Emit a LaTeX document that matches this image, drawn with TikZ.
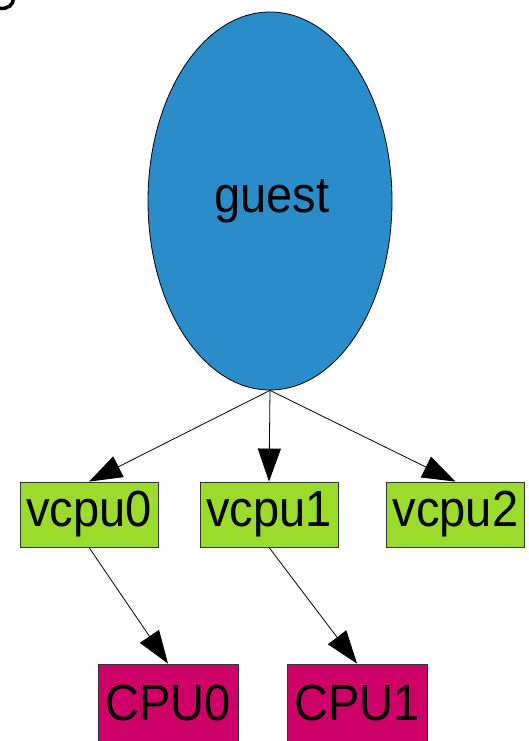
\documentclass[tikz,border=0pt]{standalone}
\usepackage{fontspec}
\setmainfont{Liberation Sans}
\usetikzlibrary{arrows.meta,shapes.geometric}
\definecolor{guestblue}{HTML}{2A8DC9}
\definecolor{vgreen}{HTML}{9ADB2C}
\definecolor{cpumag}{HTML}{CC0066}
\definecolor{edgegray}{HTML}{333333}
\newcommand{\tallt}[1]{\scalebox{1}[1.08]{#1}}
\tikzset{
  lbl/.style={font=\fontsize{47}{56}\selectfont, text=black},
  guestnode/.style={ellipse, draw=black, line width=0.8pt, fill=guestblue, minimum width=244pt, minimum height=378pt, inner sep=0pt, lbl},
  vbox/.style={rectangle, draw=edgegray, line width=0.8pt, fill=vgreen, minimum width=138pt, minimum height=65pt, inner sep=0pt, lbl},
  cbox/.style={rectangle, draw=edgegray, line width=0.8pt, fill=cpumag, minimum width=140pt, minimum height=79pt, inner sep=0pt, lbl},
  conn/.style={draw=black, line width=0.8pt, -{Triangle[length=33pt,width=23pt]}}
}
\begin{document}
\begin{tikzpicture}[x=1pt,y=-1pt]
\useasboundingbox (0,0) rectangle (528,741);
\fill[white] (0,0) rectangle (528,741);
\draw[line width=3.5pt] (13.5,-2) .. controls (13.5,5) and (8,9) .. (0,8.5);
\node[guestnode] (guest) at (270,201) {};
\node[lbl] (guestlbl) at (272,201) {\tallt{guest}};
\node[vbox] (vcpu0) at (89,514.5) {\tallt{vcpu0}};
\node[vbox] (vcpu1) at (269,514.5) {\tallt{vcpu1}};
\node[vbox] (vcpu2) at (455.5,514.5) {\tallt{vcpu2}};
\node[cbox] (cpu0) at (168,703.5) {\tallt{CPU0}};
\node[cbox] (cpu1) at (357,703.5) {\tallt{CPU1}};
\draw[conn] (guest.south) -- (vcpu0.north);
\draw[conn] (guest.south) -- (vcpu1.north);
\draw[conn] (guest.south) -- (vcpu2.north);
\draw[conn] (vcpu0.south) -- (cpu0.north);
\draw[conn] (vcpu1.south) -- (cpu1.north);
\end{tikzpicture}
\end{document}
